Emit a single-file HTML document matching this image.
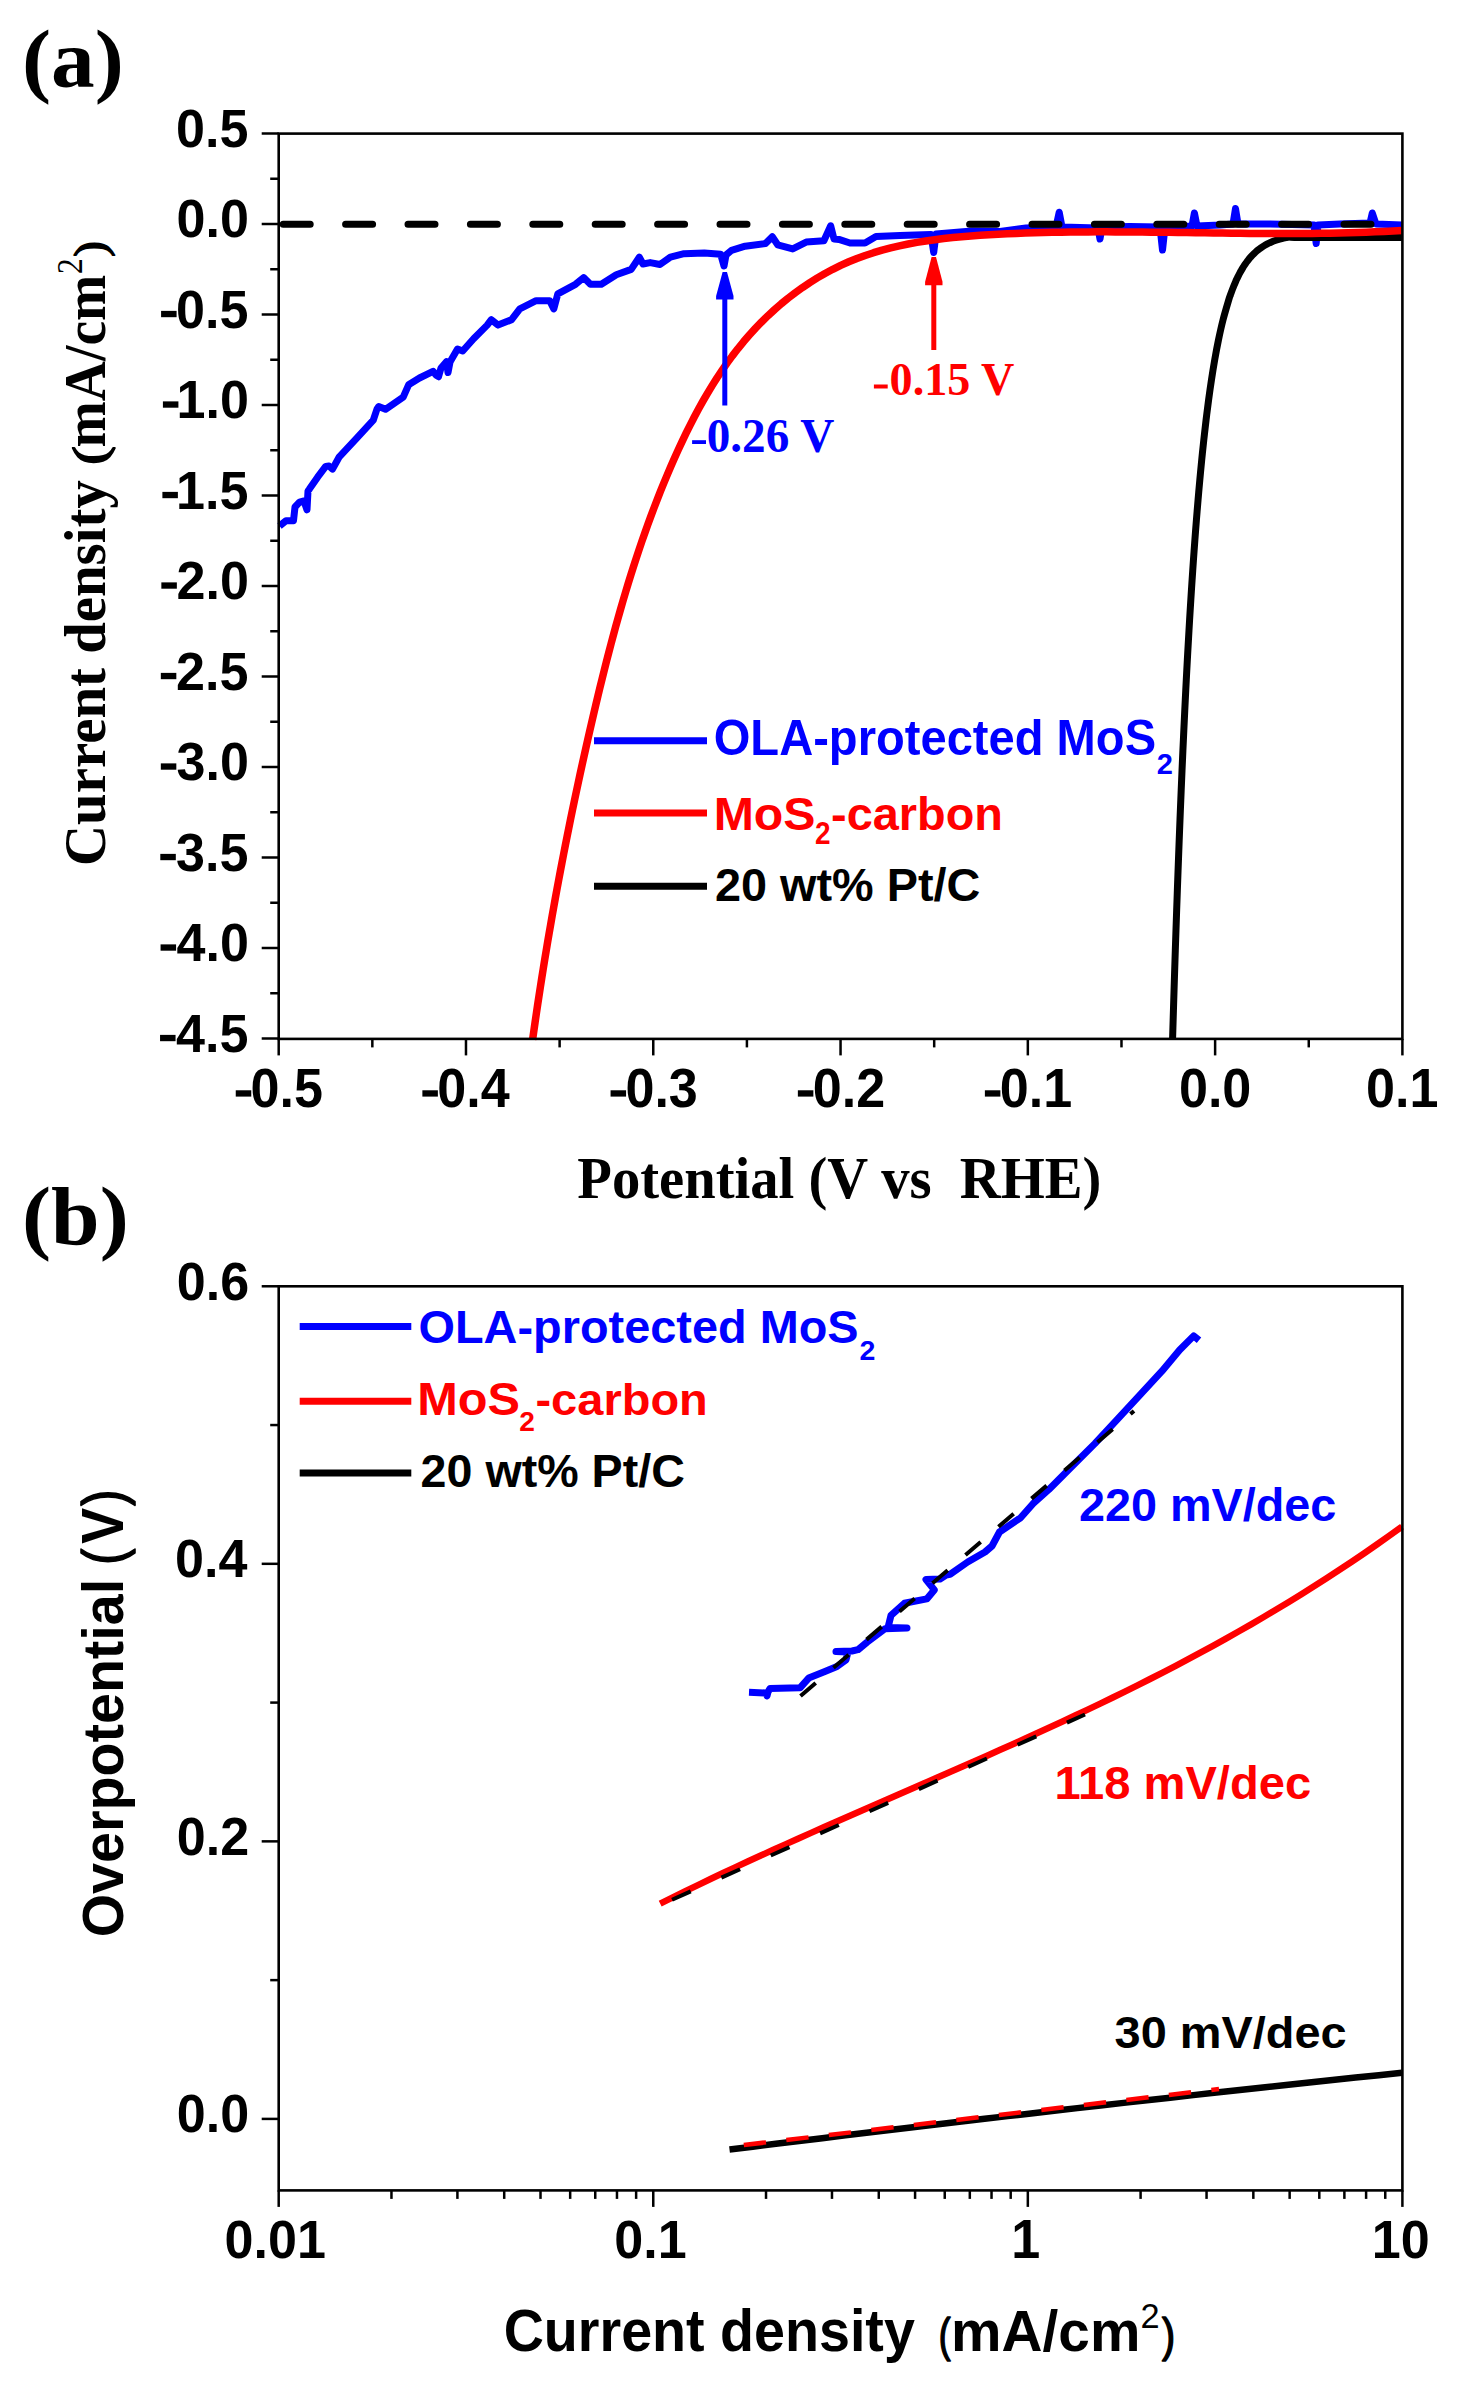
<!DOCTYPE html>
<html><head><meta charset="utf-8"><style>html,body{margin:0;padding:0;background:#fff;width:1472px;height:2397px}svg{display:block}</style></head>
<body><svg width="1472" height="2397" viewBox="0 0 1472 2397">
<rect width="1472" height="2397" fill="#fff"/>
<path d="M279.50,526.00 L286.00,520.70 L293.50,520.70 L295.00,507.00 L299.50,502.20 L304.00,501.00 L307.00,509.80 L308.00,491.00 L309.40,489.10 L317.60,477.20 L325.70,466.40 L329.00,466.00 L332.50,469.10 L339.30,456.80 L357.00,437.80 L373.30,420.20 L377.00,409.00 L378.70,406.60 L385.50,409.30 L403.20,397.10 L408.60,384.80 L419.50,378.00 L433.00,371.30 L436.00,375.00 L438.50,376.70 L441.00,368.00 L446.60,361.70 L448.00,372.60 L450.00,362.00 L457.50,349.00 L462.70,351.00 L473.60,338.70 L487.20,325.10 L491.30,319.70 L498.00,325.10 L511.60,319.70 L519.80,308.80 L536.10,300.70 L549.70,300.70 L553.80,308.80 L557.80,293.90 L575.50,284.30 L583.60,277.60 L590.40,284.30 L601.30,284.30 L616.30,274.80 L631.20,269.40 L639.30,257.20 L643.00,264.00 L650.20,262.60 L660.00,264.50 L670.40,257.10 L684.00,253.70 L704.30,253.00 L720.70,254.30 L724.00,266.00 L726.00,255.00 L731.50,250.30 L745.10,246.20 L765.50,243.50 L772.30,236.70 L777.70,244.80 L792.70,248.90 L806.20,242.10 L823.90,240.80 L830.70,225.80 L834.00,239.00 L838.90,239.40 L850.00,243.00 L865.00,243.00 L876.00,236.50 L900.00,235.40 L931.00,234.50 L933.70,252.50 L936.00,234.00 L972.00,231.00 L1000.00,231.50 L1026.00,228.00 L1056.00,227.00 L1059.20,212.20 L1062.00,227.00 L1098.00,228.00 L1100.00,239.00 L1102.00,227.00 L1130.00,226.50 L1160.00,227.00 L1162.50,250.00 L1165.00,227.00 L1192.00,226.00 L1194.40,213.00 L1197.00,226.00 L1220.00,225.00 L1233.00,224.00 L1235.50,208.50 L1238.00,224.00 L1270.00,224.00 L1314.00,225.00 L1316.20,243.50 L1318.00,225.00 L1340.00,224.00 L1370.00,223.00 L1372.30,213.00 L1376.00,224.00 L1402.00,225.00" fill="none" stroke="#0000ff" stroke-width="7" stroke-linejoin="round" />
<path d="M1172.55,1040.00 C1172.65,1036.67 1172.94,1026.67 1173.14,1020.00 C1173.34,1013.33 1173.54,1006.67 1173.75,1000.00 C1173.95,993.33 1174.16,986.67 1174.36,980.00 C1174.57,973.33 1174.78,966.67 1175.00,960.00 C1175.21,953.33 1175.43,946.67 1175.65,940.00 C1175.87,933.33 1176.09,926.67 1176.32,920.00 C1176.55,913.33 1176.78,906.67 1177.01,900.00 C1177.24,893.33 1177.48,886.67 1177.72,880.00 C1177.96,873.33 1178.20,866.67 1178.45,860.00 C1178.70,853.33 1178.95,846.67 1179.20,840.00 C1179.46,833.33 1179.72,826.67 1179.98,820.00 C1180.25,813.33 1180.51,806.67 1180.79,800.00 C1181.06,793.33 1181.34,786.67 1181.62,780.00 C1181.90,773.33 1182.19,766.67 1182.48,760.00 C1182.77,753.33 1183.07,746.67 1183.38,740.00 C1183.68,733.33 1183.99,726.67 1184.31,720.00 C1184.62,713.33 1184.94,706.67 1185.27,700.00 C1185.60,693.33 1185.94,686.67 1186.28,680.00 C1186.62,673.33 1186.97,666.67 1187.33,660.00 C1187.69,653.33 1188.06,646.67 1188.44,640.00 C1188.81,633.33 1189.20,626.67 1189.59,620.00 C1189.99,613.33 1190.39,606.67 1190.81,600.00 C1191.22,593.33 1191.65,586.67 1192.09,580.00 C1192.53,573.33 1192.98,566.67 1193.44,560.00 C1193.91,553.33 1194.38,546.67 1194.88,540.00 C1195.37,533.33 1195.88,526.67 1196.41,520.00 C1196.94,513.33 1197.48,506.67 1198.05,500.00 C1198.61,493.33 1199.20,486.67 1199.81,480.00 C1200.42,473.33 1201.05,466.67 1201.71,460.00 C1202.37,453.33 1203.06,446.67 1203.79,440.00 C1204.51,433.33 1205.26,426.67 1206.07,420.00 C1206.87,413.33 1207.70,406.67 1208.59,400.00 C1209.49,393.33 1210.42,386.67 1211.44,380.00 C1212.45,373.33 1213.51,366.67 1214.68,360.00 C1215.85,353.33 1217.07,346.67 1218.46,340.00 C1219.85,333.33 1221.30,326.67 1223.00,320.00 C1224.71,313.33 1227.47,304.17 1228.70,300.00 C1229.93,295.83 1229.98,296.16 1230.38,295.00 C1230.78,293.84 1230.84,293.70 1231.07,293.04 C1231.31,292.39 1231.55,291.74 1231.79,291.09 C1232.03,290.44 1232.28,289.79 1232.53,289.13 C1232.78,288.48 1233.04,287.83 1233.30,287.18 C1233.56,286.53 1233.82,285.88 1234.09,285.22 C1234.36,284.57 1234.63,283.92 1234.91,283.27 C1235.19,282.62 1235.48,281.97 1235.77,281.31 C1236.06,280.66 1236.35,280.01 1236.66,279.36 C1236.96,278.71 1237.27,278.06 1237.58,277.40 C1237.90,276.75 1238.22,276.10 1238.55,275.45 C1238.88,274.80 1239.22,274.14 1239.56,273.49 C1239.91,272.84 1240.26,272.19 1240.62,271.54 C1240.98,270.89 1241.35,270.23 1241.74,269.58 C1242.12,268.93 1242.51,268.28 1242.91,267.63 C1243.31,266.98 1243.72,266.32 1244.15,265.67 C1244.58,265.02 1245.01,264.37 1245.47,263.72 C1245.92,263.07 1246.38,262.41 1246.87,261.76 C1247.35,261.11 1247.85,260.46 1248.36,259.81 C1248.88,259.16 1249.42,258.50 1249.97,257.85 C1250.53,257.20 1251.11,256.55 1251.71,255.90 C1252.32,255.24 1252.94,254.59 1253.60,253.94 C1254.26,253.29 1254.95,252.64 1255.68,251.99 C1256.41,251.33 1257.16,250.68 1257.97,250.03 C1258.79,249.38 1259.63,248.73 1260.55,248.08 C1261.47,247.42 1262.43,246.77 1263.48,246.12 C1264.54,245.47 1265.64,244.82 1266.89,244.17 C1268.14,243.51 1269.44,242.86 1270.96,242.21 C1272.48,241.56 1274.06,240.91 1276.03,240.26 C1277.99,239.60 1280.60,238.79 1282.76,238.30 C1284.92,237.81 1286.13,237.45 1289.00,237.30 C1291.87,237.15 1281.17,237.37 1300.00,237.40 C1318.83,237.43 1385.00,237.48 1402.00,237.50" fill="none" stroke="#000000" stroke-width="7" stroke-linejoin="round" />
<path d="M532.59,1039.80 L533.83,1030.96 L535.10,1022.12 L536.39,1013.27 L537.70,1004.42 L539.04,995.58 L540.40,986.73 L541.79,977.88 L543.20,969.03 L544.63,960.18 L546.09,951.33 L547.57,942.48 L549.07,933.64 L550.60,924.79 L552.15,915.95 L553.72,907.11 L555.31,898.27 L556.93,889.43 L558.57,880.59 L560.23,871.76 L561.91,862.93 L563.62,854.11 L565.35,845.29 L567.09,836.47 L568.86,827.66 L570.65,818.85 L572.46,810.05 L574.30,801.25 L576.15,792.45 L578.02,783.67 L579.92,774.89 L581.83,766.11 L583.77,757.34 L585.72,748.58 L587.70,739.83 L589.69,731.08 L591.71,722.34 L593.74,713.61 L595.80,704.89 L597.88,696.17 L599.98,687.47 L602.11,678.77 L604.28,670.09 L606.47,661.41 L608.71,652.75 L610.97,644.10 L613.28,635.46 L615.63,626.84 L618.02,618.22 L620.46,609.62 L622.95,601.04 L625.48,592.47 L628.07,583.92 L630.71,575.38 L633.41,566.86 L636.17,558.35 L638.99,549.86 L641.87,541.39 L644.82,532.94 L647.83,524.51 L650.91,516.09 L654.07,507.70 L657.30,499.33 L660.61,490.97 L663.99,482.64 L667.46,474.33 L671.01,466.04 L674.64,457.78 L678.37,449.54 L682.18,441.33 L686.10,433.17 L690.13,425.05 L694.27,417.00 L698.54,409.02 L702.93,401.12 L707.46,393.31 L712.13,385.59 L716.94,377.98 L721.92,370.48 L727.05,363.10 L732.35,355.86 L737.83,348.76 L743.49,341.81 L749.34,335.02 L755.37,328.40 L761.59,321.95 L767.99,315.69 L774.56,309.63 L781.29,303.77 L788.19,298.13 L795.26,292.71 L802.47,287.52 L809.84,282.58 L817.35,277.88 L825.00,273.44 L832.80,269.28 L840.72,265.39 L848.77,261.78 L856.94,258.47 L865.23,255.45 L873.62,252.69 L882.12,250.18 L890.70,247.91 L899.37,245.87 L908.12,244.04 L916.93,242.40 L925.81,240.95 L934.73,239.67 L943.71,238.54 L952.71,237.55 L961.75,236.69 L970.81,235.95 L979.89,235.30 L988.97,234.74 L998.05,234.24 L1007.11,233.81 L1016.17,233.42 L1025.22,233.09 L1034.26,232.80 L1043.29,232.55 L1052.31,232.35 L1061.32,232.18 L1070.32,232.06 L1079.32,231.96 L1088.31,231.90 L1097.29,231.87 L1106.26,231.86 L1115.23,231.88 L1124.20,231.92 L1133.16,231.98 L1142.11,232.06 L1151.06,232.15 L1160.01,232.25 L1168.96,232.36 L1177.90,232.48 L1186.84,232.60 L1195.78,232.73 L1204.72,232.85 L1213.65,232.97 L1222.59,233.09 L1231.53,233.20 L1240.47,233.29 L1249.40,233.38 L1258.35,233.45 L1267.29,233.50 L1276.23,233.53 L1285.18,233.54 L1294.13,233.52 L1303.09,233.47 L1312.05,233.40 L1321.02,233.29 L1329.99,233.14 L1338.97,232.96 L1347.95,232.74 L1356.94,232.48 L1365.94,232.17 L1374.94,231.81 L1383.95,231.40 L1392.97,230.94 L1402.01,230.42" fill="none" stroke="#ff0000" stroke-width="7.5" stroke-linejoin="round" />
<line x1="283.2" y1="224.2" x2="1398.9" y2="224.2" stroke="#000" stroke-width="7" stroke-linecap="round" stroke-dasharray="27 35.4"/>
<line x1="724.80" y1="405.50" x2="724.80" y2="298.50" stroke="#0000ff" stroke-width="5" />
<path d="M722.6,272.0 L727.0,272.0 L733.5,296.0 L733.5,299.5 L716.1,299.5 L716.1,296.0 Z" fill="#0000ff"/>
<line x1="933.80" y1="350.00" x2="933.80" y2="284.20" stroke="#ff0000" stroke-width="5" />
<path d="M931.6,257.0 L936.0,257.0 L942.5,281.7 L942.5,285.2 L925.1,285.2 L925.1,281.7 Z" fill="#ff0000"/>
<rect x="278.70" y="133.60" width="1123.70" height="905.30" fill="none" stroke="#000" stroke-width="2.6"/>
<line x1="261.70" y1="133.50" x2="278.70" y2="133.50" stroke="#000" stroke-width="2.5" />
<line x1="270.20" y1="178.75" x2="278.70" y2="178.75" stroke="#000" stroke-width="2.5" />
<line x1="261.70" y1="224.00" x2="278.70" y2="224.00" stroke="#000" stroke-width="2.5" />
<line x1="270.20" y1="269.25" x2="278.70" y2="269.25" stroke="#000" stroke-width="2.5" />
<line x1="261.70" y1="314.50" x2="278.70" y2="314.50" stroke="#000" stroke-width="2.5" />
<line x1="270.20" y1="359.75" x2="278.70" y2="359.75" stroke="#000" stroke-width="2.5" />
<line x1="261.70" y1="405.00" x2="278.70" y2="405.00" stroke="#000" stroke-width="2.5" />
<line x1="270.20" y1="450.25" x2="278.70" y2="450.25" stroke="#000" stroke-width="2.5" />
<line x1="261.70" y1="495.50" x2="278.70" y2="495.50" stroke="#000" stroke-width="2.5" />
<line x1="270.20" y1="540.75" x2="278.70" y2="540.75" stroke="#000" stroke-width="2.5" />
<line x1="261.70" y1="586.00" x2="278.70" y2="586.00" stroke="#000" stroke-width="2.5" />
<line x1="270.20" y1="631.25" x2="278.70" y2="631.25" stroke="#000" stroke-width="2.5" />
<line x1="261.70" y1="676.50" x2="278.70" y2="676.50" stroke="#000" stroke-width="2.5" />
<line x1="270.20" y1="721.75" x2="278.70" y2="721.75" stroke="#000" stroke-width="2.5" />
<line x1="261.70" y1="767.00" x2="278.70" y2="767.00" stroke="#000" stroke-width="2.5" />
<line x1="270.20" y1="812.25" x2="278.70" y2="812.25" stroke="#000" stroke-width="2.5" />
<line x1="261.70" y1="857.50" x2="278.70" y2="857.50" stroke="#000" stroke-width="2.5" />
<line x1="270.20" y1="902.75" x2="278.70" y2="902.75" stroke="#000" stroke-width="2.5" />
<line x1="261.70" y1="948.00" x2="278.70" y2="948.00" stroke="#000" stroke-width="2.5" />
<line x1="270.20" y1="993.25" x2="278.70" y2="993.25" stroke="#000" stroke-width="2.5" />
<line x1="261.70" y1="1038.50" x2="278.70" y2="1038.50" stroke="#000" stroke-width="2.5" />
<line x1="278.70" y1="1038.90" x2="278.70" y2="1055.40" stroke="#000" stroke-width="2.5" />
<line x1="372.34" y1="1038.90" x2="372.34" y2="1047.40" stroke="#000" stroke-width="2.5" />
<line x1="465.98" y1="1038.90" x2="465.98" y2="1055.40" stroke="#000" stroke-width="2.5" />
<line x1="559.62" y1="1038.90" x2="559.62" y2="1047.40" stroke="#000" stroke-width="2.5" />
<line x1="653.27" y1="1038.90" x2="653.27" y2="1055.40" stroke="#000" stroke-width="2.5" />
<line x1="746.91" y1="1038.90" x2="746.91" y2="1047.40" stroke="#000" stroke-width="2.5" />
<line x1="840.55" y1="1038.90" x2="840.55" y2="1055.40" stroke="#000" stroke-width="2.5" />
<line x1="934.19" y1="1038.90" x2="934.19" y2="1047.40" stroke="#000" stroke-width="2.5" />
<line x1="1027.83" y1="1038.90" x2="1027.83" y2="1055.40" stroke="#000" stroke-width="2.5" />
<line x1="1121.48" y1="1038.90" x2="1121.48" y2="1047.40" stroke="#000" stroke-width="2.5" />
<line x1="1215.12" y1="1038.90" x2="1215.12" y2="1055.40" stroke="#000" stroke-width="2.5" />
<line x1="1308.76" y1="1038.90" x2="1308.76" y2="1047.40" stroke="#000" stroke-width="2.5" />
<line x1="1402.40" y1="1038.90" x2="1402.40" y2="1055.40" stroke="#000" stroke-width="2.5" />
<rect x="161.09" y="310.88" width="15.50" height="6.32" fill="#000"/>
<rect x="162.91" y="401.38" width="15.50" height="6.32" fill="#000"/>
<rect x="162.39" y="491.88" width="15.50" height="6.32" fill="#000"/>
<rect x="161.35" y="582.38" width="15.50" height="6.32" fill="#000"/>
<rect x="160.83" y="672.88" width="15.50" height="6.32" fill="#000"/>
<rect x="160.83" y="763.38" width="15.50" height="6.32" fill="#000"/>
<rect x="160.31" y="853.88" width="15.50" height="6.32" fill="#000"/>
<rect x="160.57" y="944.38" width="15.50" height="6.32" fill="#000"/>
<rect x="160.05" y="1034.88" width="15.50" height="6.32" fill="#000"/>
<rect x="235.75" y="1090.28" width="15.50" height="6.32" fill="#000"/>
<rect x="422.38" y="1090.28" width="15.50" height="6.32" fill="#000"/>
<rect x="610.57" y="1090.28" width="15.50" height="6.32" fill="#000"/>
<rect x="797.86" y="1090.28" width="15.50" height="6.32" fill="#000"/>
<rect x="984.88" y="1090.28" width="15.50" height="6.32" fill="#000"/>
<rect x="692.10" y="440.20" width="13.90" height="3.80" fill="#0000ff"/>
<rect x="873.90" y="384.50" width="13.80" height="4.00" fill="#ff0000"/>
<line x1="594.00" y1="740.80" x2="707.00" y2="740.80" stroke="#0000ff" stroke-width="7" />
<line x1="594.00" y1="813.00" x2="707.00" y2="813.00" stroke="#ff0000" stroke-width="7" />
<line x1="594.00" y1="886.30" x2="707.00" y2="886.30" stroke="#000000" stroke-width="7" />
<path d="M660.20,1903.62 L672.77,1897.35 L685.35,1891.16 L697.92,1885.05 L710.49,1879.01 L723.06,1873.05 L735.64,1867.15 L748.21,1861.31 L760.78,1855.52 L773.36,1849.79 L785.93,1844.10 L798.50,1838.46 L811.07,1832.85 L823.65,1827.28 L836.22,1821.73 L848.79,1816.21 L861.37,1810.70 L873.94,1805.21 L886.51,1799.73 L899.08,1794.26 L911.66,1788.78 L924.23,1783.30 L936.80,1777.82 L949.38,1772.32 L961.95,1766.80 L974.52,1761.26 L987.09,1755.69 L999.67,1750.09 L1012.24,1744.45 L1024.81,1738.77 L1037.39,1733.05 L1049.96,1727.28 L1062.53,1721.45 L1075.11,1715.56 L1087.68,1709.61 L1100.25,1703.59 L1112.82,1697.50 L1125.40,1691.33 L1137.97,1685.08 L1150.54,1678.74 L1163.12,1672.30 L1175.69,1665.78 L1188.26,1659.15 L1200.83,1652.41 L1213.41,1645.57 L1225.98,1638.61 L1238.55,1631.53 L1251.13,1624.33 L1263.70,1617.00 L1276.27,1609.54 L1288.84,1601.94 L1301.42,1594.20 L1313.99,1586.31 L1326.56,1578.27 L1339.14,1570.07 L1351.71,1561.71 L1364.28,1553.19 L1376.85,1544.49 L1389.43,1535.63 L1402.00,1526.58" fill="none" stroke="#ff0000" stroke-width="6.5" stroke-linejoin="round" />
<path d="M729.50,2149.58 L752.69,2146.70 L775.88,2143.84 L799.07,2140.99 L822.26,2138.16 L845.45,2135.35 L868.64,2132.55 L891.83,2129.77 L915.02,2127.01 L938.21,2124.26 L961.40,2121.53 L984.59,2118.81 L1007.78,2116.11 L1030.97,2113.43 L1054.16,2110.77 L1077.34,2108.12 L1100.53,2105.48 L1123.72,2102.87 L1146.91,2100.26 L1170.10,2097.68 L1193.29,2095.11 L1216.48,2092.56 L1239.67,2090.02 L1262.86,2087.50 L1286.05,2085.00 L1309.24,2082.51 L1332.43,2080.04 L1355.62,2077.59 L1378.81,2075.15 L1402.00,2072.73" fill="none" stroke="#000000" stroke-width="6.5" stroke-linejoin="round" />
<path d="M749.00,1692.30 L766.00,1693.00 L767.00,1696.00 L768.00,1692.00 L770.00,1688.50 L800.00,1687.80 L808.70,1678.10 L823.70,1672.10 L837.00,1666.50 L846.00,1660.00 L848.00,1652.00 L836.00,1651.50 L852.00,1651.00 L858.00,1649.70 L867.00,1642.20 L885.00,1628.70 L907.00,1628.00 L888.00,1627.50 L891.00,1615.30 L904.40,1603.30 L926.80,1598.90 L934.30,1589.90 L926.00,1579.50 L940.00,1579.00 L946.20,1575.00 L950.00,1574.30 L967.70,1562.00 L985.00,1552.00 L992.00,1546.00 L999.50,1532.00 L1020.60,1517.80 L1033.00,1503.70 L1048.90,1489.50 L1073.60,1464.80 L1094.80,1443.60 L1117.80,1418.90 L1140.70,1394.20 L1161.90,1371.20 L1179.60,1350.00 L1193.70,1335.90 L1199.00,1340.30" fill="none" stroke="#0000ff" stroke-width="7" stroke-linejoin="round" />
<line x1="800.5" y1="1696" x2="1134" y2="1411" stroke="#000" stroke-width="4" stroke-dasharray="20 23.4"/>
<line x1="662" y1="1904.3" x2="1085" y2="1714.5" stroke="#000" stroke-width="4" stroke-dasharray="0 11 20.5 22.6"/>
<line x1="743.8" y1="2145" x2="1219" y2="2089" stroke="#ff0000" stroke-width="4.5" stroke-dasharray="22.4 20.4"/>
<rect x="278.70" y="1286.30" width="1123.70" height="904.10" fill="none" stroke="#000" stroke-width="2.6"/>
<line x1="261.70" y1="2118.90" x2="278.70" y2="2118.90" stroke="#000" stroke-width="2.5" />
<line x1="261.70" y1="1841.36" x2="278.70" y2="1841.36" stroke="#000" stroke-width="2.5" />
<line x1="261.70" y1="1563.82" x2="278.70" y2="1563.82" stroke="#000" stroke-width="2.5" />
<line x1="261.70" y1="1286.28" x2="278.70" y2="1286.28" stroke="#000" stroke-width="2.5" />
<line x1="270.20" y1="1980.13" x2="278.70" y2="1980.13" stroke="#000" stroke-width="2.5" />
<line x1="270.20" y1="1702.59" x2="278.70" y2="1702.59" stroke="#000" stroke-width="2.5" />
<line x1="270.20" y1="1425.05" x2="278.70" y2="1425.05" stroke="#000" stroke-width="2.5" />
<line x1="278.70" y1="2190.40" x2="278.70" y2="2206.90" stroke="#000" stroke-width="2.5" />
<line x1="391.46" y1="2190.40" x2="391.46" y2="2198.90" stroke="#000" stroke-width="2.5" />
<line x1="457.41" y1="2190.40" x2="457.41" y2="2198.90" stroke="#000" stroke-width="2.5" />
<line x1="504.21" y1="2190.40" x2="504.21" y2="2198.90" stroke="#000" stroke-width="2.5" />
<line x1="540.51" y1="2190.40" x2="540.51" y2="2198.90" stroke="#000" stroke-width="2.5" />
<line x1="570.17" y1="2190.40" x2="570.17" y2="2198.90" stroke="#000" stroke-width="2.5" />
<line x1="595.25" y1="2190.40" x2="595.25" y2="2198.90" stroke="#000" stroke-width="2.5" />
<line x1="616.97" y1="2190.40" x2="616.97" y2="2198.90" stroke="#000" stroke-width="2.5" />
<line x1="636.13" y1="2190.40" x2="636.13" y2="2198.90" stroke="#000" stroke-width="2.5" />
<line x1="653.27" y1="2190.40" x2="653.27" y2="2206.90" stroke="#000" stroke-width="2.5" />
<line x1="766.02" y1="2190.40" x2="766.02" y2="2198.90" stroke="#000" stroke-width="2.5" />
<line x1="831.98" y1="2190.40" x2="831.98" y2="2198.90" stroke="#000" stroke-width="2.5" />
<line x1="878.78" y1="2190.40" x2="878.78" y2="2198.90" stroke="#000" stroke-width="2.5" />
<line x1="915.08" y1="2190.40" x2="915.08" y2="2198.90" stroke="#000" stroke-width="2.5" />
<line x1="944.74" y1="2190.40" x2="944.74" y2="2198.90" stroke="#000" stroke-width="2.5" />
<line x1="969.81" y1="2190.40" x2="969.81" y2="2198.90" stroke="#000" stroke-width="2.5" />
<line x1="991.53" y1="2190.40" x2="991.53" y2="2198.90" stroke="#000" stroke-width="2.5" />
<line x1="1010.69" y1="2190.40" x2="1010.69" y2="2198.90" stroke="#000" stroke-width="2.5" />
<line x1="1027.83" y1="2190.40" x2="1027.83" y2="2206.90" stroke="#000" stroke-width="2.5" />
<line x1="1140.59" y1="2190.40" x2="1140.59" y2="2198.90" stroke="#000" stroke-width="2.5" />
<line x1="1206.55" y1="2190.40" x2="1206.55" y2="2198.90" stroke="#000" stroke-width="2.5" />
<line x1="1253.34" y1="2190.40" x2="1253.34" y2="2198.90" stroke="#000" stroke-width="2.5" />
<line x1="1289.64" y1="2190.40" x2="1289.64" y2="2198.90" stroke="#000" stroke-width="2.5" />
<line x1="1319.30" y1="2190.40" x2="1319.30" y2="2198.90" stroke="#000" stroke-width="2.5" />
<line x1="1344.38" y1="2190.40" x2="1344.38" y2="2198.90" stroke="#000" stroke-width="2.5" />
<line x1="1366.10" y1="2190.40" x2="1366.10" y2="2198.90" stroke="#000" stroke-width="2.5" />
<line x1="1385.26" y1="2190.40" x2="1385.26" y2="2198.90" stroke="#000" stroke-width="2.5" />
<line x1="1402.40" y1="2190.40" x2="1402.40" y2="2206.90" stroke="#000" stroke-width="2.5" />
<line x1="299.70" y1="1326.50" x2="411.30" y2="1326.50" stroke="#0000ff" stroke-width="7" />
<line x1="299.70" y1="1401.30" x2="411.30" y2="1401.30" stroke="#ff0000" stroke-width="7" />
<line x1="299.70" y1="1473.00" x2="411.30" y2="1473.00" stroke="#000000" stroke-width="7" />
<text transform="translate(175.97,146.86) scale(0.9730,1)" font-family="&quot;Liberation Sans&quot;, sans-serif" font-weight="bold" font-size="53.521" fill="#000" >0.5</text>
<text transform="translate(176.49,237.36) scale(0.9730,1)" font-family="&quot;Liberation Sans&quot;, sans-serif" font-weight="bold" font-size="53.521" fill="#000" >0.0</text>
<text transform="translate(175.97,327.86) scale(0.9730,1)" font-family="&quot;Liberation Sans&quot;, sans-serif" font-weight="bold" font-size="53.521" fill="#000" >0.5</text>
<text transform="translate(176.49,418.36) scale(0.9730,1)" font-family="&quot;Liberation Sans&quot;, sans-serif" font-weight="bold" font-size="53.521" fill="#000" >1.0</text>
<text transform="translate(175.97,508.86) scale(0.9593,1)" font-family="&quot;Liberation Sans&quot;, sans-serif" font-weight="bold" font-size="54.286" fill="#000" >1.5</text>
<text transform="translate(176.49,599.36) scale(0.9730,1)" font-family="&quot;Liberation Sans&quot;, sans-serif" font-weight="bold" font-size="53.521" fill="#000" >2.0</text>
<text transform="translate(175.97,689.86) scale(0.9730,1)" font-family="&quot;Liberation Sans&quot;, sans-serif" font-weight="bold" font-size="53.521" fill="#000" >2.5</text>
<text transform="translate(176.49,780.36) scale(0.9730,1)" font-family="&quot;Liberation Sans&quot;, sans-serif" font-weight="bold" font-size="53.521" fill="#000" >3.0</text>
<text transform="translate(175.97,870.86) scale(0.9730,1)" font-family="&quot;Liberation Sans&quot;, sans-serif" font-weight="bold" font-size="53.521" fill="#000" >3.5</text>
<text transform="translate(176.49,961.36) scale(0.9730,1)" font-family="&quot;Liberation Sans&quot;, sans-serif" font-weight="bold" font-size="53.521" fill="#000" >4.0</text>
<text transform="translate(175.97,1051.86) scale(0.9593,1)" font-family="&quot;Liberation Sans&quot;, sans-serif" font-weight="bold" font-size="54.286" fill="#000" >4.5</text>
<text transform="translate(250.62,1107.25) scale(0.9432,1)" font-family="&quot;Liberation Sans&quot;, sans-serif" font-weight="bold" font-size="55.211" fill="#000" >0.5</text>
<text transform="translate(437.26,1107.25) scale(0.9432,1)" font-family="&quot;Liberation Sans&quot;, sans-serif" font-weight="bold" font-size="55.211" fill="#000" >0.4</text>
<text transform="translate(625.45,1107.25) scale(0.9432,1)" font-family="&quot;Liberation Sans&quot;, sans-serif" font-weight="bold" font-size="55.211" fill="#000" >0.3</text>
<text transform="translate(812.73,1107.25) scale(0.9432,1)" font-family="&quot;Liberation Sans&quot;, sans-serif" font-weight="bold" font-size="55.211" fill="#000" >0.2</text>
<text transform="translate(999.76,1107.25) scale(0.9432,1)" font-family="&quot;Liberation Sans&quot;, sans-serif" font-weight="bold" font-size="55.211" fill="#000" >0.1</text>
<text transform="translate(1178.95,1107.25) scale(0.9432,1)" font-family="&quot;Liberation Sans&quot;, sans-serif" font-weight="bold" font-size="55.211" fill="#000" >0.0</text>
<text transform="translate(1365.97,1107.25) scale(0.9432,1)" font-family="&quot;Liberation Sans&quot;, sans-serif" font-weight="bold" font-size="55.211" fill="#000" >0.1</text>
<text transform="translate(22.01,87.18) scale(1.0598,1)" font-family="&quot;Liberation Serif&quot;, serif" font-weight="bold" font-size="82.418" fill="#000" >(a)</text>
<text transform="translate(577.35,1197.60) scale(0.9435,1)" font-family="&quot;Liberation Serif&quot;, serif" font-weight="bold" font-size="60.000" fill="#000" >Potential (V vs &#160;RHE)</text>
<text transform="translate(105.00,863.40) rotate(-90) translate(-2.56,0) scale(0.9453,1)" font-family="&quot;Liberation Serif&quot;, serif" font-weight="bold" font-size="60.152" fill="#000" >Current density</text>
<text transform="translate(105.00,462.60) rotate(-90) translate(-2.23,0) scale(1.2206,1)" font-family="&quot;Liberation Serif&quot;, serif" font-weight="normal" font-size="45.755" fill="#000" stroke="#000" stroke-width="1.6" stroke-linejoin="round">(</text>
<text transform="translate(104.70,446.00) rotate(-90) translate(-1.39,0) scale(0.9322,1)" font-family="&quot;Liberation Serif&quot;, serif" font-weight="bold" font-size="59.574" fill="#000" >mA/cm</text>
<text transform="translate(82.00,272.70) rotate(-90) translate(-1.25,0) scale(0.8883,1)" font-family="&quot;Liberation Serif&quot;, serif" font-weight="normal" font-size="35.303" fill="#000" >2</text>
<text transform="translate(105.00,255.40) rotate(-90) translate(-1.38,0) scale(1.0347,1)" font-family="&quot;Liberation Serif&quot;, serif" font-weight="normal" font-size="44.604" fill="#000" stroke="#000" stroke-width="1.6" stroke-linejoin="round">)</text>
<text transform="translate(706.65,451.80) scale(0.9871,1)" font-family="&quot;Liberation Serif&quot;, serif" font-weight="bold" font-size="47.820" fill="#0000ff" >0.26 V</text>
<text transform="translate(889.59,395.00) scale(0.9862,1)" font-family="&quot;Liberation Serif&quot;, serif" font-weight="bold" font-size="46.767" fill="#ff0000" >0.15 V</text>
<text transform="translate(713.72,755.20) scale(0.9563,1)" font-family="&quot;Liberation Sans&quot;, sans-serif" font-weight="bold" font-size="49.275" fill="#0000ff" >OLA-protected MoS</text>
<text transform="translate(1156.83,773.50) scale(0.9706,1)" font-family="&quot;Liberation Sans&quot;, sans-serif" font-weight="bold" font-size="29.857" fill="#0000ff" >2</text>
<text transform="translate(713.66,829.50) scale(1.0252,1)" font-family="&quot;Liberation Sans&quot;, sans-serif" font-weight="bold" font-size="47.050" fill="#ff0000" >MoS</text>
<text transform="translate(814.96,844.20) scale(0.8856,1)" font-family="&quot;Liberation Sans&quot;, sans-serif" font-weight="bold" font-size="31.571" fill="#ff0000" >2</text>
<text transform="translate(831.06,829.50) scale(1.0085,1)" font-family="&quot;Liberation Sans&quot;, sans-serif" font-weight="bold" font-size="46.483" fill="#ff0000" >-carbon</text>
<text transform="translate(715.00,901.10) scale(0.9982,1)" font-family="&quot;Liberation Sans&quot;, sans-serif" font-weight="bold" font-size="46.906" fill="#000000" >20 wt% Pt/C</text>
<text transform="translate(176.79,1299.74) scale(0.9654,1)" font-family="&quot;Liberation Sans&quot;, sans-serif" font-weight="bold" font-size="53.944" fill="#000" >0.6</text>
<text transform="translate(174.97,1577.28) scale(0.9654,1)" font-family="&quot;Liberation Sans&quot;, sans-serif" font-weight="bold" font-size="53.944" fill="#000" >0.4</text>
<text transform="translate(176.79,1854.82) scale(0.9654,1)" font-family="&quot;Liberation Sans&quot;, sans-serif" font-weight="bold" font-size="53.944" fill="#000" >0.2</text>
<text transform="translate(176.79,2132.36) scale(0.9654,1)" font-family="&quot;Liberation Sans&quot;, sans-serif" font-weight="bold" font-size="53.944" fill="#000" >0.0</text>
<text transform="translate(224.59,2257.76) scale(0.9654,1)" font-family="&quot;Liberation Sans&quot;, sans-serif" font-weight="bold" font-size="53.944" fill="#000" >0.01</text>
<text transform="translate(614.37,2257.76) scale(0.9654,1)" font-family="&quot;Liberation Sans&quot;, sans-serif" font-weight="bold" font-size="53.944" fill="#000" >0.1</text>
<text transform="translate(1011.34,2258.30) scale(0.9382,1)" font-family="&quot;Liberation Sans&quot;, sans-serif" font-weight="bold" font-size="55.507" fill="#000" >1</text>
<text transform="translate(1371.72,2257.76) scale(0.9654,1)" font-family="&quot;Liberation Sans&quot;, sans-serif" font-weight="bold" font-size="53.944" fill="#000" >10</text>
<text transform="translate(22.01,1243.58) scale(1.0598,1)" font-family="&quot;Liberation Serif&quot;, serif" font-weight="bold" font-size="82.418" fill="#000" >(b)</text>
<text transform="translate(503.67,2351.00) scale(0.9523,1)" font-family="&quot;Liberation Sans&quot;, sans-serif" font-weight="bold" font-size="58.429" fill="#000" >Current density</text>
<text transform="translate(938.87,2350.73) scale(0.7642,1)" font-family="&quot;Liberation Sans&quot;, sans-serif" font-weight="normal" font-size="46.524" fill="#000" stroke="#000" stroke-width="1.6" stroke-linejoin="round">(</text>
<text transform="translate(951.11,2351.00) scale(0.9790,1)" font-family="&quot;Liberation Sans&quot;, sans-serif" font-weight="bold" font-size="57.971" fill="#000" >mA/cm</text>
<text transform="translate(1140.48,2327.90) scale(0.9935,1)" font-family="&quot;Liberation Sans&quot;, sans-serif" font-weight="normal" font-size="34.571" fill="#000" >2</text>
<text transform="translate(1162.00,2350.73) scale(0.8438,1)" font-family="&quot;Liberation Sans&quot;, sans-serif" font-weight="normal" font-size="46.524" fill="#000" stroke="#000" stroke-width="1.6" stroke-linejoin="round">)</text>
<text transform="translate(122.80,1935.00) rotate(-90) translate(-2.22,0) scale(0.9811,1)" font-family="&quot;Liberation Sans&quot;, sans-serif" font-weight="bold" font-size="56.690" fill="#000" >Overpotential</text>
<text transform="translate(122.80,1561.80) rotate(-90) translate(-2.89,0) scale(0.8493,1)" font-family="&quot;Liberation Sans&quot;, sans-serif" font-weight="normal" font-size="56.690" fill="#000" stroke="#000" stroke-width="1.6" stroke-linejoin="round">(</text>
<text transform="translate(122.80,1543.40) rotate(-90) translate(-0.27,0) scale(0.9005,1)" font-family="&quot;Liberation Sans&quot;, sans-serif" font-weight="bold" font-size="59.565" fill="#000" >V</text>
<text transform="translate(122.80,1505.40) rotate(-90) translate(-0.24,0) scale(0.8493,1)" font-family="&quot;Liberation Sans&quot;, sans-serif" font-weight="normal" font-size="56.690" fill="#000" stroke="#000" stroke-width="1.6" stroke-linejoin="round">)</text>
<text transform="translate(1079.00,1520.90) scale(1.0089,1)" font-family="&quot;Liberation Sans&quot;, sans-serif" font-weight="bold" font-size="46.345" fill="#0000ff" >220 mV/dec</text>
<text transform="translate(1054.47,1798.90) scale(1.0169,1)" font-family="&quot;Liberation Sans&quot;, sans-serif" font-weight="bold" font-size="46.345" fill="#ff0000" >118 mV/dec</text>
<text transform="translate(1114.56,2047.70) scale(1.0405,1)" font-family="&quot;Liberation Sans&quot;, sans-serif" font-weight="bold" font-size="45.103" fill="#000000" >30 mV/dec</text>
<text transform="translate(418.52,1343.20) scale(1.0045,1)" font-family="&quot;Liberation Sans&quot;, sans-serif" font-weight="bold" font-size="46.667" fill="#0000ff" >OLA-protected MoS</text>
<text transform="translate(859.44,1360.00) scale(1.0101,1)" font-family="&quot;Liberation Sans&quot;, sans-serif" font-weight="bold" font-size="28.286" fill="#0000ff" >2</text>
<text transform="translate(417.23,1415.20) scale(1.0618,1)" font-family="&quot;Liberation Sans&quot;, sans-serif" font-weight="bold" font-size="45.899" fill="#ff0000" >MoS</text>
<text transform="translate(519.16,1430.80) scale(1.0268,1)" font-family="&quot;Liberation Sans&quot;, sans-serif" font-weight="bold" font-size="27.429" fill="#ff0000" >2</text>
<text transform="translate(535.45,1415.00) scale(1.0392,1)" font-family="&quot;Liberation Sans&quot;, sans-serif" font-weight="bold" font-size="45.241" fill="#ff0000" >-carbon</text>
<text transform="translate(420.60,1487.20) scale(1.0104,1)" font-family="&quot;Liberation Sans&quot;, sans-serif" font-weight="bold" font-size="46.143" fill="#000000" >20 wt% Pt/C</text>
</svg></body></html>
